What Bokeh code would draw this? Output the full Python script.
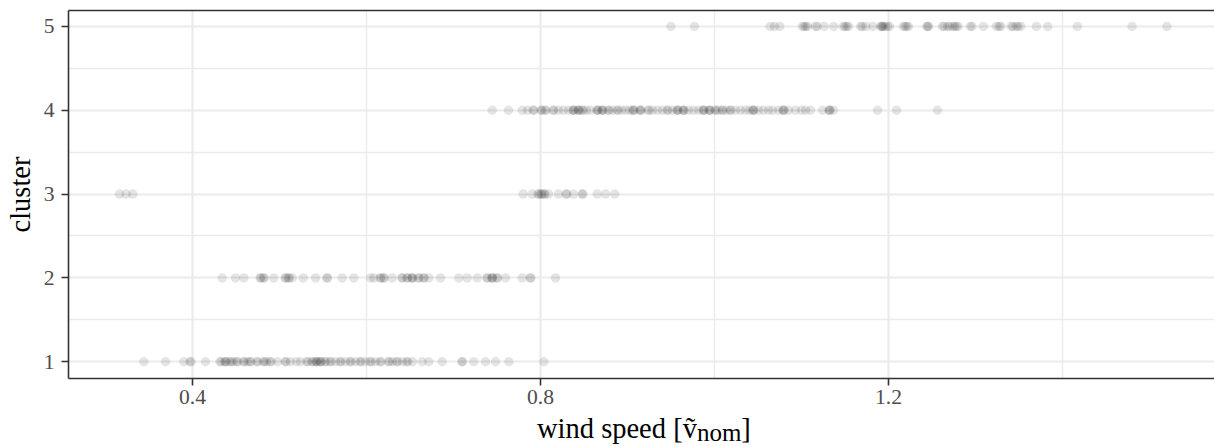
from bokeh.plotting import figure
from bokeh.models import Range1d, FixedTicker, LinearAxis, Div
from bokeh.layouts import column
from bokeh.embed import file_html
from bokeh.resources import INLINE

# ---- data: wind speed values per cluster ----
clusters = [1, 2, 3, 4, 5]

cluster1 = [0.3440, 0.3690, 0.3900, 0.3970, 0.3985, 0.4149, 0.4315, 0.4330, 0.4370,
            0.4380, 0.4390, 0.4430, 0.4445, 0.4471, 0.4505, 0.4520, 0.4585, 0.4595,
            0.4632, 0.4660, 0.4672, 0.4740, 0.4750, 0.4815, 0.4825, 0.4851, 0.4890,
            0.4905, 0.4977, 0.5065, 0.5075, 0.5126, 0.5195, 0.5241, 0.5312, 0.5325,
            0.5372, 0.5385, 0.5418, 0.5425, 0.5432, 0.5465, 0.5472, 0.5480, 0.5522,
            0.5535, 0.5580, 0.5592, 0.5644, 0.5695, 0.5708, 0.5759, 0.5810, 0.5822,
            0.5874, 0.5925, 0.5938, 0.5989, 0.6040, 0.6052, 0.6103, 0.6155, 0.6168,
            0.6250, 0.6262, 0.6299, 0.6348, 0.6358, 0.6414, 0.6462, 0.6475, 0.6529,
            0.6640, 0.6716, 0.6870, 0.7095, 0.7105, 0.7233, 0.7368, 0.7483, 0.7636,
            0.8038]

cluster2 = [0.4341, 0.4494, 0.4590, 0.4778, 0.4786, 0.4816, 0.4824, 0.4934, 0.5065,
            0.5073, 0.5103, 0.5111, 0.5146, 0.5272, 0.5414, 0.5544, 0.5552, 0.5721,
            0.5854, 0.6046, 0.6084, 0.6157, 0.6165, 0.6195, 0.6203, 0.6295, 0.6406,
            0.6414, 0.6464, 0.6472, 0.6520, 0.6525, 0.6530, 0.6597, 0.6605, 0.6655,
            0.6663, 0.6716, 0.6851, 0.7061, 0.7157, 0.7272, 0.7383, 0.7391, 0.7440,
            0.7445, 0.7450, 0.7498, 0.7506, 0.7598, 0.7790, 0.7881, 0.7889, 0.8172]

cluster3 = [0.3161, 0.3238, 0.3314, 0.7801, 0.7905, 0.7972, 0.7982, 0.8006, 0.8016,
            0.8041, 0.8051, 0.8092, 0.8207, 0.8295, 0.8303, 0.8379, 0.8479, 0.8487,
            0.8652, 0.8747, 0.8854]

cluster4 = [0.7445, 0.7632, 0.7790, 0.7851, 0.7915, 0.7925, 0.8006, 0.8016, 0.8052,
            0.8062, 0.8144, 0.8154, 0.8207, 0.8264, 0.8322, 0.8372, 0.8379, 0.8386,
            0.8430, 0.8437, 0.8444, 0.8478, 0.8488, 0.8529, 0.8575, 0.8648, 0.8655,
            0.8662, 0.8706, 0.8713, 0.8720, 0.8777, 0.8787, 0.8828, 0.8880, 0.8890,
            0.8931, 0.8977, 0.9023, 0.9062, 0.9069, 0.9076, 0.9142, 0.9149, 0.9156,
            0.9236, 0.9246, 0.9287, 0.9345, 0.9402, 0.9455, 0.9465, 0.9517, 0.9568,
            0.9575, 0.9582, 0.9637, 0.9644, 0.9651, 0.9701, 0.9759, 0.9816, 0.9867,
            0.9874, 0.9881, 0.9936, 0.9943, 0.9950, 1.0006, 1.0016, 1.0046, 1.0087,
            1.0097, 1.0138, 1.0179, 1.0189, 1.0241, 1.0299, 1.0356, 1.0402, 1.0441,
            1.0448, 1.0455, 1.0506, 1.0563, 1.0621, 1.0667, 1.0736, 1.0786, 1.0793,
            1.0800, 1.0851, 1.0931, 1.1000, 1.1046, 1.1103, 1.1241, 1.1315, 1.1322,
            1.1329, 1.1368, 1.1874, 1.2092, 1.2563]

cluster5 = [0.950, 0.977, 1.064, 1.069, 1.075, 1.101, 1.103, 1.105, 1.107, 1.116,
            1.118, 1.126, 1.137, 1.148, 1.150, 1.152, 1.154, 1.168, 1.170, 1.174,
            1.182, 1.191, 1.192, 1.193, 1.194, 1.196, 1.199, 1.201, 1.217, 1.219,
            1.221, 1.223, 1.244, 1.245, 1.246, 1.262, 1.264, 1.268, 1.270, 1.274,
            1.276, 1.278, 1.280, 1.294, 1.296, 1.309, 1.324, 1.327, 1.329, 1.341,
            1.343, 1.347, 1.349, 1.352, 1.370, 1.383, 1.417, 1.480, 1.520]

x_ticks = [0.4, 0.8, 1.2]
x_minor = [0.6, 1.0, 1.4]
y_ticks = [1, 2, 3, 4, 5]
y_minor = [1.5, 2.5, 3.5, 4.5]

series = [cluster1, cluster2, cluster3, cluster4, cluster5]
xs, ys = [], []
for c, vals in zip(clusters, series):
    xs.extend(vals)
    ys.extend([c] * len(vals))

FONT = "Liberation Serif"
AX = "#333333"
GRID = "#ebebeb"

p = figure(width=1214, height=412, output_backend="svg", toolbar_location=None,
           x_range=Range1d(0.25747, 1.5747), y_range=Range1d(0.8, 5.19),
           min_border_left=68, min_border_right=0, min_border_top=10,
           min_border_bottom=34, background_fill_color="white",
           border_fill_color="white")
p.outline_line_color = None

xax = p.below[0]
yax = p.left[0]
xax.ticker = FixedTicker(ticks=x_ticks, minor_ticks=x_minor)
yax.ticker = FixedTicker(ticks=y_ticks, minor_ticks=y_minor)

for ax in (xax, yax):
    ax.axis_line_color = AX
    ax.axis_line_width = 1.6
    ax.major_tick_line_color = AX
    ax.major_tick_line_width = 1.6
    ax.major_tick_in = 0
    ax.major_tick_out = 7
    ax.minor_tick_line_color = None
    ax.minor_tick_in = 0
    ax.minor_tick_out = 0
    ax.major_label_text_font = FONT
    ax.major_label_text_font_size = "21.6px"
    ax.major_label_text_color = "#4d4d4d"
xax.major_label_standoff = 4
yax.major_label_standoff = 7

yax.axis_label = "cluster"
yax.axis_label_text_font = FONT
yax.axis_label_text_font_size = "28.5px"
yax.axis_label_text_font_style = "normal"
yax.axis_label_text_color = "black"
yax.axis_label_standoff = 5

# top border of the panel
top = LinearAxis(ticker=FixedTicker(ticks=[]), axis_line_color=AX,
                 axis_line_width=1.6, major_tick_line_color=None,
                 minor_tick_line_color=None, major_tick_in=0, major_tick_out=0,
                 minor_tick_in=0, minor_tick_out=0, major_label_standoff=0,
                 major_label_text_font_size="1px")
p.add_layout(top, "above")

for g in (p.xgrid[0], p.ygrid[0]):
    g.grid_line_color = GRID
    g.grid_line_width = 2.2
    g.minor_grid_line_color = GRID
    g.minor_grid_line_width = 1.4

p.scatter(xs, ys, size=9.5, fill_color="black", fill_alpha=0.1, line_color=None)

x_title = Div(
    text=('<div style="font-family:\'Liberation Serif\'; font-size:28.5px; '
          'line-height:28.5px; color:black; white-space:nowrap; '
          'padding-left:537px; padding-top:3px;">'
          'wind speed [ṽ<span style="font-size:25px; position:relative; '
          'top:2.5px;">nom</span>]</div>'),
    width=1214, height=34, margin=(0, 0, 0, 0))

layout = column(p, x_title, spacing=0)

open("out.html", "w").write(file_html(layout, INLINE))
